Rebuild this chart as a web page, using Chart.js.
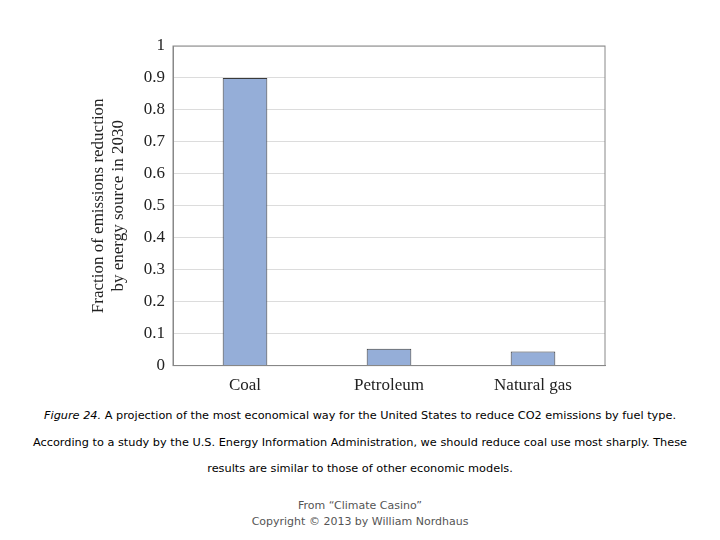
<!DOCTYPE html>
<html><head><meta charset="utf-8">
<script src="https://cdn.jsdelivr.net/npm/chart.js@4"></script>
<style>
body{margin:0;background:#fff;width:720px;height:540px;position:relative;font-family:"DejaVu Sans",sans-serif;}
#wrap{position:absolute;left:0;top:0;width:720px;height:398px;}
.cap{position:absolute;left:0;width:720px;text-align:center;font-size:11.3px;color:#000;}
.src{position:absolute;left:0;width:720px;text-align:center;font-size:11px;color:#555;line-height:16px;}
</style></head><body>
<div id="wrap"><canvas id="chart"></canvas></div>
<div class="cap" style="top:409px"><i>Figure 24.</i> A projection of the most economical way for the United States to reduce CO2 emissions by fuel type.</div>
<div class="cap" style="top:436px">According to a study by the U.S. Energy Information Administration, we should reduce coal use most sharply. These</div>
<div class="cap" style="top:462px">results are similar to those of other economic models.</div>
<div class="src" style="top:498px">From “Climate Casino”<br>Copyright © 2013 by William Nordhaus</div>
<script>
const categories = ['Coal', 'Petroleum', 'Natural gas'];
const reduction = [0.9, 0.053, 0.044];
const yTicks = [0, 0.1, 0.2, 0.3, 0.4, 0.5, 0.6, 0.7, 0.8, 0.9, 1];

const serif = '"Liberation Serif", "DejaVu Serif", serif';

new Chart(document.getElementById('chart').getContext('2d'), {
  type: 'bar',
  data: {
    labels: categories,
    datasets: [{
      data: reduction,
      backgroundColor: '#95aed8',
      borderColor: '#3a3a3a',
      borderWidth: 1,
      barPercentage: 0.31,
      categoryPercentage: 1
    }]
  },
  options: {
    responsive: true,
    maintainAspectRatio: false,
    animation: false,
    layout: { padding: { left: 88, right: 115, top: 46, bottom: 0 } },
    plugins: { legend: { display: false }, tooltip: { enabled: false } },
    scales: {
      x: {
        grid: { display: false },
        border: { color: '#888' },
        ticks: { color: '#222', font: { family: serif, size: 17 }, padding: 2 }
      },
      y: {
        min: 0, max: 1,
        afterBuildTicks(s) { s.ticks = yTicks.map(v => ({ value: v })); },
        afterFit(s) { s.width = 85; },
        grid: { color: '#dcdcdc', drawTicks: false },
        border: { color: '#888' },
        ticks: {
          color: '#222', padding: 8,
          font: { family: serif, size: 17 },
          callback: v => String(v)
        },
        title: {
          display: true,
          text: ['Fraction of emissions reduction', 'by energy source in 2030'],
          color: '#222',
          font: { family: serif, size: 17 },
          padding: { top: 0, bottom: 10 }
        }
      }
    }
  },
  plugins: [{
    id: 'box',
    afterDraw(c) {
      const a = c.chartArea, g = c.ctx;
      g.save(); g.strokeStyle = '#888'; g.lineWidth = 1;
      g.strokeRect(a.left, a.top, a.right - a.left, a.bottom - a.top);
      g.restore();
    }
  }]
});
</script>
</body></html>
